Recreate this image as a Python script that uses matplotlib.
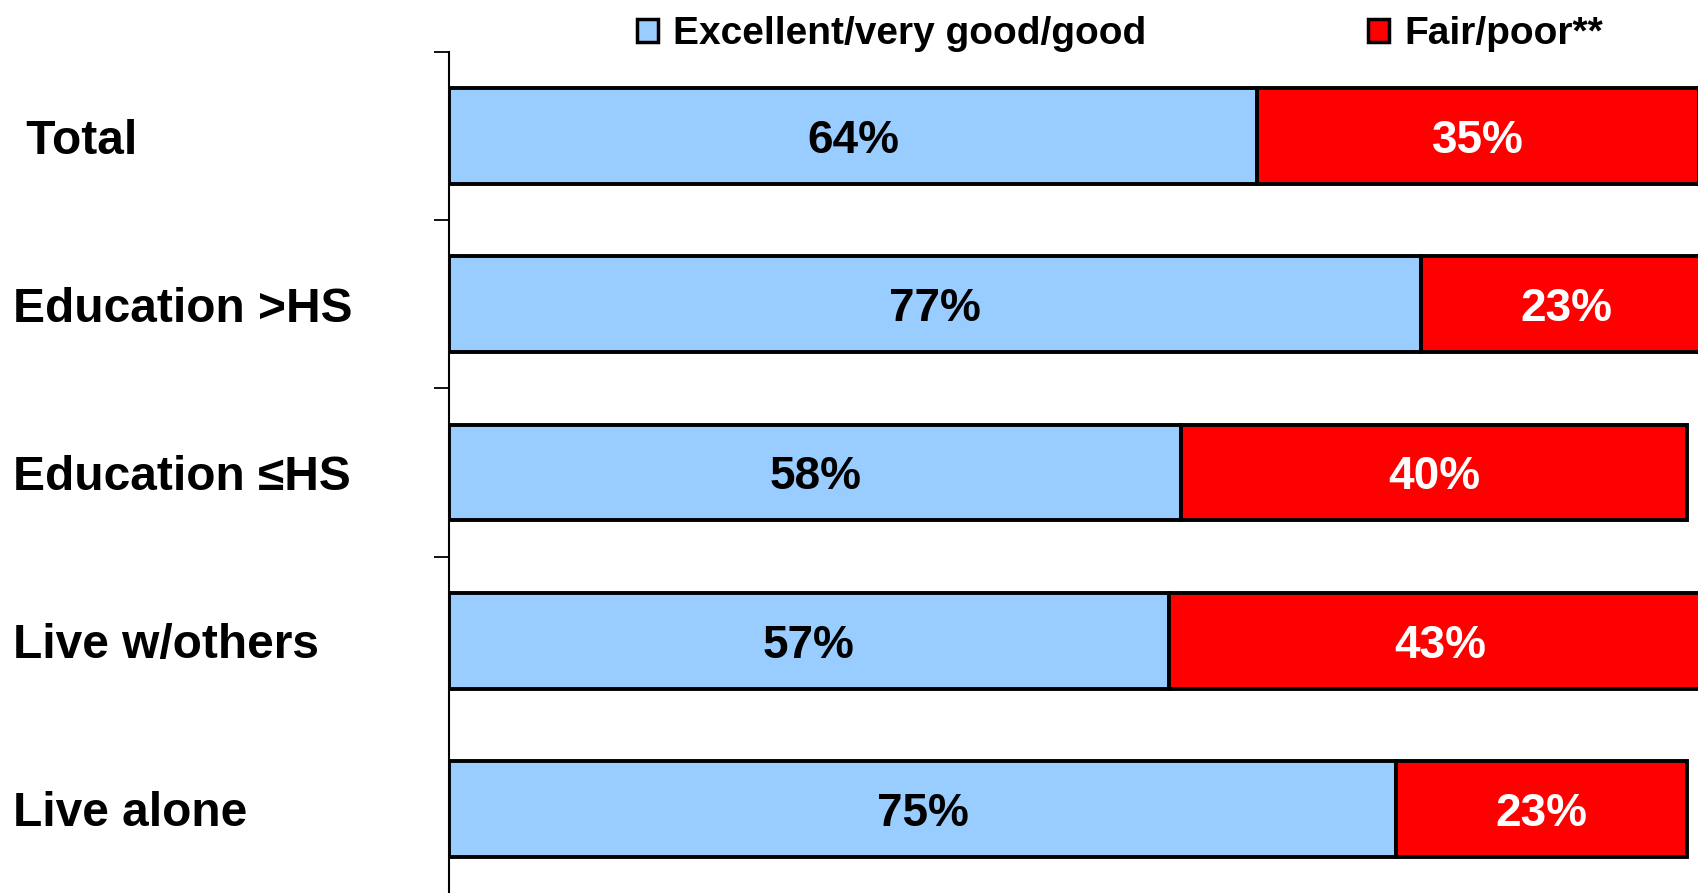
import matplotlib
matplotlib.use("Agg")
import matplotlib.pyplot as plt
from matplotlib.patches import Patch
import numpy as np

categories = [" Total", "Education >HS", "Education \u2264HS", "Live w/others", "Live alone"]
good = [64, 77, 58, 57, 75]
fair = [35, 23, 40, 43, 23]
series_names = ["Excellent/very good/good", "Fair/poor**"]

BLUE = "#99CCFF"
RED = "#FF0000"

plt.rcParams['font.family'] = ['Liberation Sans', 'DejaVu Sans']
plt.rcParams['font.weight'] = 'bold'

fig = plt.figure(figsize=(16.98, 8.93), dpi=100)
ax = fig.add_axes([0.2644, 0.0, 1.0 - 0.2644, 0.9418])

y = np.arange(len(categories))
h = 0.57
ax.barh(y, good, height=h, color=BLUE, edgecolor="black", linewidth=2.8, clip_on=True)
ax.barh(y, fair, left=good, height=h, color=RED, edgecolor="black", linewidth=2.8, clip_on=True)

for yi, g, f in zip(y, good, fair):
    ax.text(g / 2, yi, f"{g}%", ha="center", va="center_baseline", fontsize=33,
            fontweight="bold", color="black")
    ax.text(g + f / 2, yi, f"{f}%", ha="center", va="center_baseline", fontsize=33,
            fontweight="bold", color="white")

ax.set_xlim(0, 98.9)
ax.set_ylim(len(categories) - 0.5, -0.5)

for s in ["top", "right", "bottom"]:
    ax.spines[s].set_visible(False)
ax.spines["left"].set_linewidth(1.5)
ax.set_xticks([])

ax.set_yticks(np.arange(len(categories) - 1) - 0.5)
ax.set_yticklabels([])
ax.tick_params(axis="y", which="major", length=11, width=1.3, direction="out")
ax.set_yticks(y, minor=True)
ax.set_yticklabels(categories, minor=True, fontsize=34.5, fontweight="bold", ha="left")
ax.tick_params(axis="y", which="minor", length=0, pad=314)

handles = [Patch(facecolor=BLUE, edgecolor="black", linewidth=2.5, label=series_names[0]),
           Patch(facecolor=RED, edgecolor="black", linewidth=2.5, label=series_names[1])]
fig.legend(handles=handles, loc="center left", bbox_to_anchor=(637 / 1698, 0.962),
           ncol=2, frameon=False, handlelength=0.54, handleheight=0.54,
           handletextpad=0.39, columnspacing=5.7, borderpad=0, borderaxespad=0,
           prop={"weight": "bold", "size": 28})

fig.savefig("out.png", dpi=100)
